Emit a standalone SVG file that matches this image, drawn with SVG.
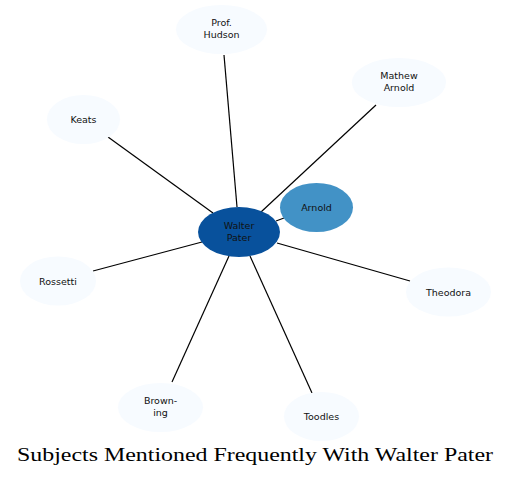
<svg xmlns="http://www.w3.org/2000/svg" width="511" height="477" viewBox="0 0 511 477">
<style>
.edge{stroke:#000;stroke-width:1.2;fill:none}
.light{fill:#f7fbff}
.lbl{font-family:"DejaVu Sans",sans-serif;font-size:9.5px;fill:#111;text-anchor:middle}
.title{font-family:"Liberation Serif",serif;font-size:19px;fill:#000;text-anchor:middle}
</style>
<rect width="511" height="477" fill="#fff"/>
<g id="connectors">
<line class="edge" x1="224" y1="55" x2="237" y2="207"/>
<line class="edge" x1="376" y1="105" x2="261" y2="212"/>
<line class="edge" x1="108" y1="137" x2="213" y2="213"/>
<line class="edge" x1="93" y1="271" x2="202" y2="242"/>
<line class="edge" x1="276" y1="221" x2="284" y2="218"/>
<line class="edge" x1="277" y1="243" x2="410" y2="281"/>
<line class="edge" x1="229" y1="256" x2="172" y2="382"/>
<line class="edge" x1="250" y1="256" x2="312" y2="393"/>
</g>
<g id="node-prof-hudson">
<ellipse class="light" cx="221.5" cy="29.5" rx="45.5" ry="24.5"/>
<text class="lbl" x="221.5" y="26">Prof.</text>
<text class="lbl" x="221.5" y="38">Hudson</text>
</g>
<g id="node-mathew-arnold">
<ellipse class="light" cx="399" cy="82.5" rx="47" ry="24.5"/>
<text class="lbl" x="399" y="79">Mathew</text>
<text class="lbl" x="399" y="91">Arnold</text>
</g>
<g id="node-keats">
<ellipse class="light" cx="83.5" cy="119.5" rx="36.5" ry="24.5"/>
<text class="lbl" x="83.5" y="123">Keats</text>
</g>
<g id="node-rossetti">
<ellipse class="light" cx="58" cy="281" rx="38" ry="24.5"/>
<text class="lbl" x="58" y="284.5">Rossetti</text>
</g>
<g id="node-theodora">
<ellipse class="light" cx="448.5" cy="292" rx="42.5" ry="24.5"/>
<text class="lbl" x="448.5" y="295.5">Theodora</text>
</g>
<g id="node-browning">
<ellipse class="light" cx="160.5" cy="407.5" rx="42.5" ry="24.5"/>
<text class="lbl" x="160.5" y="404">Brown-</text>
<text class="lbl" x="160.5" y="416">ing</text>
</g>
<g id="node-toodles">
<ellipse class="light" cx="321.5" cy="416.5" rx="37.5" ry="24.5"/>
<text class="lbl" x="321.5" y="420">Toodles</text>
</g>
<g id="node-arnold">
<ellipse cx="316.5" cy="207.5" rx="36.5" ry="24.5" fill="#4292c6"/>
<text class="lbl" x="316.5" y="211">Arnold</text>
</g>
<g id="node-walter-pater">
<ellipse cx="239" cy="232" rx="41" ry="25" fill="#08519c"/>
<text class="lbl" x="239" y="229">Walter</text>
<text class="lbl" x="239" y="241">Pater</text>
</g>
<text class="title" x="255" y="461" textLength="476" lengthAdjust="spacingAndGlyphs">Subjects Mentioned Frequently With Walter Pater</text>
</svg>
